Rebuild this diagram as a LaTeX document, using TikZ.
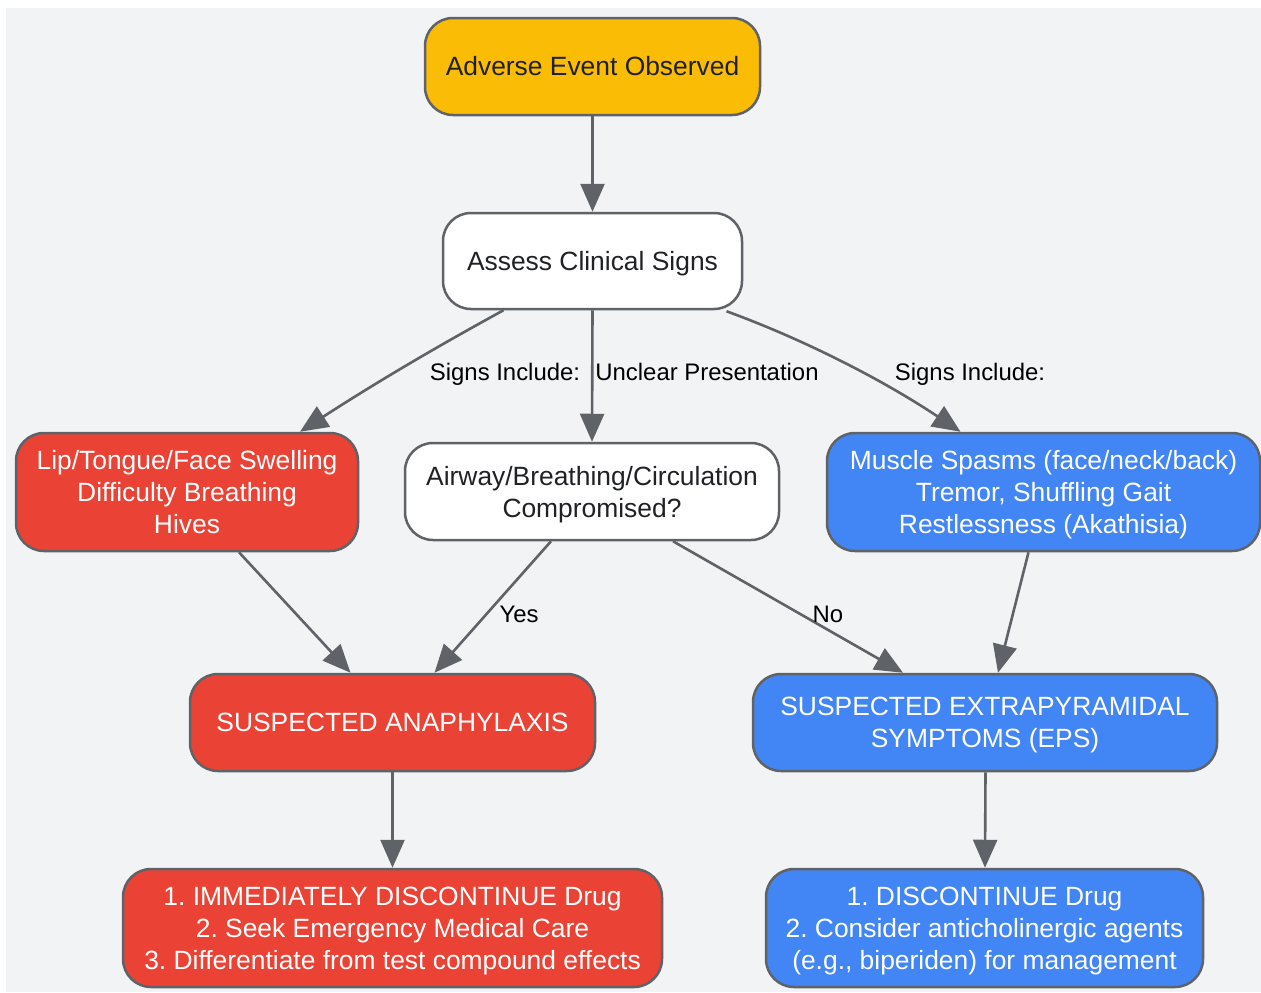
\documentclass[tikz,border=0pt]{standalone}
\usepackage{fontspec}
\setmainfont{Liberation Sans}
\usetikzlibrary{arrows.meta}

\definecolor{bggray}{HTML}{F1F3F4}
\definecolor{linegray}{HTML}{5F6368}
\definecolor{alertyellow}{HTML}{FBBC05}
\definecolor{alertred}{HTML}{EA4335}
\definecolor{epsblue}{HTML}{4285F4}
\definecolor{darktext}{HTML}{202124}

% last line of a node: keep descenders out of the centring
\newcommand\nodescend[1]{\raisebox{0pt}[\height][0pt]{#1}}
\frenchspacing

\begin{document}
\begin{tikzpicture}[x=1pt,y=-1pt,
    box/.style={draw=linegray,line width=2.5pt,rounded corners=28pt,align=center,
        inner sep=0pt,font=\fontsize{26.4}{32}\selectfont},
    startbox/.style={box,fill=alertyellow,text=darktext},
    plainbox/.style={box,fill=white,text=darktext},
    redbox/.style={box,fill=alertred,text=white},
    bluebox/.style={box,fill=epsblue,text=white},
    flow/.style={draw=linegray,line width=2.6pt,-{Triangle[length=28pt,width=24pt]}},
    flowlabel/.style={font=\fontsize{23.9}{28}\selectfont,text=black,inner sep=0pt,text depth=0pt}]

\useasboundingbox (0,0) rectangle (1261,993);
\fill[bggray] (6,8) rectangle (1261,992);

% top of the chart
\node[startbox,minimum width=335pt,minimum height=97pt] (observed) at (592.5,66.5) {Adverse Event Observed};
\node[plainbox,minimum width=299pt,minimum height=96pt] (assess) at (592.5,261) {\nodescend{Assess Clinical Signs}};

% middle row: signs
\node[redbox,minimum width=342pt,minimum height=118pt] (swelling) at (187,492)
    {Lip/Tongue/Face Swelling\\Difficulty Breathing\\Hives};
\node[plainbox,minimum width=374pt,minimum height=97pt] (airway) at (592,491.5)
    {Airway/Breathing/Circulation\\\nodescend{Compromised?}};
\node[bluebox,minimum width=433pt,minimum height=118pt] (spasms) at (1043.5,492)
    {Muscle Spasms (face/neck/back)\\Tremor, Shuffling Gait\\\nodescend{Restlessness (Akathisia)}};

% suspected conditions
\node[redbox,minimum width=405pt,minimum height=97pt] (anaph) at (392.5,722.5) {SUSPECTED ANAPHYLAXIS};
\node[bluebox,minimum width=464pt,minimum height=97pt] (eps) at (985,722.5)
    {SUSPECTED EXTRAPYRAMIDAL\\\nodescend{SYMPTOMS (EPS)}};

% what to do
\node[redbox,minimum width=539pt,minimum height=118pt] (anaphact) at (392.5,928)
    {1. IMMEDIATELY DISCONTINUE Drug\\2. Seek Emergency Medical Care\\\nodescend{3. Differentiate from test compound effects}};
\node[bluebox,minimum width=437pt,minimum height=118pt] (epsact) at (984.5,928)
    {1. DISCONTINUE Drug\\2. Consider anticholinergic agents\\\nodescend{(e.g., biperiden) for management}};

% connectors
\draw[flow] (observed.south) -- (assess.north);
\draw[flow] ([xshift=-89pt]assess.south) .. controls (440,345) and (380,380) .. ([xshift=113pt]swelling.north);
\draw[flow] (assess.south) -- (airway.north);
\draw[flow] ([xshift=134pt,yshift=-1pt]assess.south) .. controls (800,338) and (880,378) .. ([xshift=-83pt]spasms.north);
\draw[flow] ([xshift=52pt]swelling.south) -- ([xshift=-42pt]anaph.north);
\draw[flow] ([xshift=-41pt]airway.south) -- ([xshift=42pt]anaph.north);
\draw[flow] ([xshift=81pt]airway.south) -- ([xshift=-82pt]eps.north);
\draw[flow] ([xshift=-15pt]spasms.south) -- ([xshift=13pt]eps.north);
\draw[flow] (anaph.south) -- (anaphact.north);
\draw[flow] ([xshift=0.5pt]eps.south) -- ([xshift=0.5pt]epsact.north);

% connector labels
\node[flowlabel] (signsleft) at (505,372) {Signs Include:};
\node[flowlabel] (unclear) at (707,372) {Unclear Presentation};
\node[flowlabel] (signsright) at (970,372) {Signs Include:};
\node[flowlabel] (yes) at (519,614) {Yes};
\node[flowlabel] (no) at (828,614) {No};

\end{tikzpicture}
\end{document}
